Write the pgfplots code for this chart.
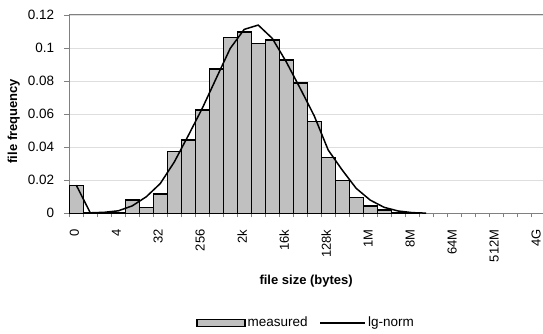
\documentclass[border=0pt]{standalone}
\usepackage{fontspec}
\setmainfont{Liberation Sans}
\usepackage{pgfplots}
\pgfplotsset{compat=1.18}
\usepackage{pgfplotstable}

\definecolor{barfill}{RGB}{192,192,192}
\definecolor{gridc}{RGB}{222,222,222}
\definecolor{axc}{RGB}{128,128,128}

\pgfplotstableread{
idx meas
0 0.0170
1 0.0003
2 0.0003
3 0.0006
4 0.0080
5 0.0035
6 0.0117
7 0.0373
8 0.0444
9 0.0625
10 0.0873
11 0.1063
12 0.1097
13 0.1029
14 0.1049
15 0.0928
16 0.0789
17 0.0554
18 0.0336
19 0.0200
20 0.0094
21 0.0044
22 0.0020
23 0.0006
24 0.0002
}\measured

\pgfplotstableread{
idx lg
0 0.0170
1 0.0003
2 0.0006
3 0.0015
4 0.0045
5 0.0100
6 0.0180
7 0.0310
8 0.0470
9 0.0635
10 0.0817
11 0.0998
12 0.1113
13 0.1139
14 0.1059
15 0.0917
16 0.0756
17 0.0590
18 0.0383
19 0.0262
20 0.0151
21 0.0080
22 0.0036
23 0.0014
24 0.0004
25 0.0001
}\lgnorm

\begin{document}
\begin{tikzpicture}
\begin{axis}[
  scale only axis, width=473.7pt, height=198.3pt,
  xmin=-0.5, xmax=33.35, ymin=0, ymax=0.12,
  clip=false,
  axis x line*=bottom, axis y line*=left,
  x axis line style={-, draw=axc, line width=0.8pt},
  y axis line style={-, draw=axc, line width=0.8pt},
  tick align=outside,
  xtick={0,3,...,33},
  xticklabels={0,4,32,256,2k,16k,128k,1M,8M,64M,512M,4G},
  major x tick style={draw=none},
  minor xtick={-0.5,0.5,...,33.5},
  minor x tick style={draw=axc, line width=0.6pt},
  minor tick length=4pt,
  ytick={0,0.02,0.04,0.06,0.08,0.1,0.12},
  yticklabels={0,0.02,0.04,0.06,0.08,0.1,0.12},
  scaled y ticks=false,
  major y tick style={draw=axc, line width=0.6pt},
  major tick length=5pt,
  ymajorgrids, grid style={draw=gridc, line width=0.6pt},
  xticklabel style={xshift=-2pt, rotate=90, anchor=east, inner sep=0pt, font=\fontsize{13}{14}\selectfont},
  xticklabel shift=11pt,
  yticklabel style={inner sep=0pt, xshift=-10pt, font=\fontsize{13.5}{14}\selectfont},
  xlabel={file size (bytes)},
  ylabel={file frequency},
  every axis x label/.style={at={(axis description cs:0.5,-0.342)}, anchor=center, font=\bfseries\fontsize{13}{14}\selectfont},
  every axis y label/.style={at={(axis description cs:-0.117,0.465)}, rotate=90, anchor=center, font=\bfseries\fontsize{13}{14}\selectfont},
  legend style={at={(axis description cs:0.5,-0.552)}, anchor=center, draw=none, fill=none,
    font=\fontsize{13.5}{14}\selectfont, /tikz/every even column/.append style={column sep=10pt}},
  legend columns=2,
  legend cell align=left,
]
\coordinate (bl) at (rel axis cs:0,0);
\draw[axc, line width=1pt] (rel axis cs:0,1) -- (rel axis cs:1,1);
\addplot[ybar, bar width=1, bar shift=0pt, fill=barfill, draw=black, line width=1.3pt,
  legend image code/.code={\draw[draw=black, fill=barfill, line width=1.3pt] (0pt,-3.5pt) rectangle (48pt,3.5pt);}]
  table[x=idx, y=meas] {\measured};
\addlegendentry{measured}
\addplot[black, line width=1.5pt, mark=none,
  legend image code/.code={\draw[black, line width=1.5pt] (0pt,0pt) -- (45pt,0pt);}]
  table[x=idx, y=lg] {\lgnorm};
\addlegendentry{lg-norm}
\end{axis}
\pgfresetboundingbox
\path[use as bounding box] (bl) ++(-69.3pt,-120.7pt) rectangle ++(543pt,334pt);
\end{tikzpicture}
\end{document}
